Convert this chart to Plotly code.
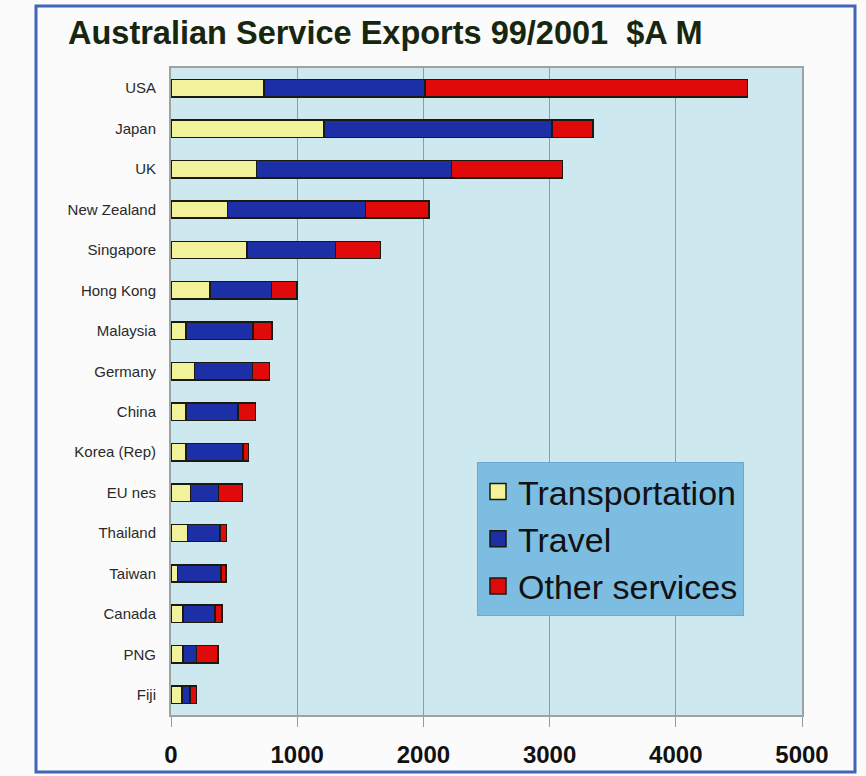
import plotly.graph_objects as go

categories = ["USA", "Japan", "UK", "New Zealand", "Singapore", "Hong Kong",
              "Malaysia", "Germany", "China", "Korea (Rep)", "EU nes",
              "Thailand", "Taiwan", "Canada", "PNG", "Fiji"]
transportation = [737, 1211, 677, 448, 603, 308, 118, 187, 118, 118, 155, 129, 50, 97, 97, 87]
travel = [1277, 1809, 1545, 1092, 700, 487, 532, 458, 414, 453, 222, 258, 347, 253, 106, 63]
other_services = [2553, 324, 882, 506, 356, 205, 150, 137, 137, 45, 189, 53, 37, 53, 171, 53]
x_ticks = [0, 1000, 2000, 3000, 4000, 5000]

series = [("Transportation", transportation, "#f2f29a"),
          ("Travel", travel, "#1c2fa6"),
          ("Other services", other_services, "#e00a0a")]

W, H = 866, 776
L, R, T, B = 171, 64, 68, 61

fig = go.Figure()
for name, vals, col in series:
    fig.add_trace(go.Bar(y=categories, x=vals, orientation="h", name=name,
                         marker=dict(color=col, line=dict(color="#1a1a10", width=1.5)),
                         showlegend=False))
for name, vals, col in series:
    fig.add_trace(go.Scatter(x=[None], y=[None], mode="markers", name=name,
                             marker=dict(symbol="square", size=22, color=col,
                                         line=dict(color="#1a1a10", width=1.5))))

pw = W - L - R
ph = H - T - B
def px_x(p):
    return (p - L) / pw
def px_y(p):
    return (H - B - p) / ph

fig.add_shape(type="rect", xref="paper", yref="paper",
              x0=px_x(36), x1=px_x(855), y0=px_y(772), y1=px_y(6),
              line=dict(color="#3f66b8", width=3), fillcolor="rgba(0,0,0,0)", layer="above")

fig.update_layout(
    width=W, height=H,
    margin=dict(l=L, r=R, t=T, b=B, autoexpand=False),
    paper_bgcolor="#fbfbfb",
    plot_bgcolor="#cde9ef",
    barmode="stack",
    bargap=0.57,
    title=dict(text="Australian Service Exports 99/2001  $A M",
               xref="container", yref="container",
               x=68 / W, xanchor="left", y=1 - 33 / H, yanchor="middle",
               font=dict(family="Liberation Sans, Arial, sans-serif",
                         size=32.5, color="#16260f", weight="bold")),
    legend=dict(x=px_x(477), y=px_y(462), xanchor="left", yanchor="top",
                bgcolor="#7dbde2", bordercolor="#6aaad0", borderwidth=1,
                font=dict(family="Liberation Sans, Arial, sans-serif", size=34, color="#111"),
                itemsizing="trace", tracegroupgap=0, traceorder="normal"),
    xaxis=dict(range=[0, 5000], tickvals=x_ticks, ticktext=[str(v) for v in x_ticks],
               showgrid=True, gridcolor="#8d9ea0", gridwidth=1,
               ticks="outside", ticklen=10, tickcolor="#8d9ea0",
               ticklabelstandoff=7, automargin=False,
               tickfont=dict(family="Liberation Sans, Arial, sans-serif",
                             size=24, color="#111", weight="bold"),
               showline=True, linecolor="#9aa4a4", linewidth=2, mirror=True,
               zeroline=False, fixedrange=True),
    yaxis=dict(autorange="reversed", categoryorder="array", categoryarray=categories,
               tickfont=dict(family="Liberation Sans, Arial, sans-serif", size=15, color="#2a2a2a"),
               ticks="", ticklabelstandoff=10, automargin=False,
               showline=True, linecolor="#9aa4a4", linewidth=2, mirror=True,
               fixedrange=True),
)

fig.write_html("out.html", config={"displayModeBar": False},
               post_script="document.body.style.margin='0';document.body.style.overflow='hidden';")
